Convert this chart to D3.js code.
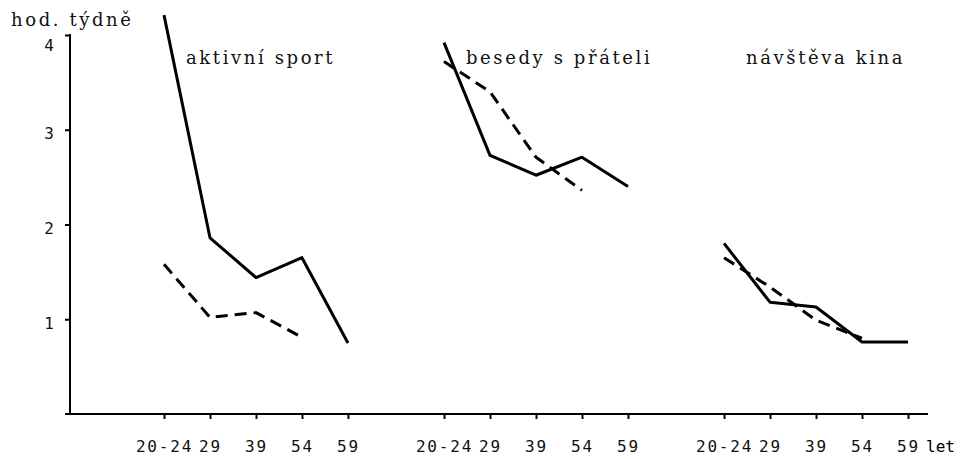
<!DOCTYPE html>
<html lang="cs">
<head>
<meta charset="utf-8">
<title>hod. týdně</title>
<script src="https://cdn.jsdelivr.net/npm/d3@7"></script>
<style>
  body { margin: 0; background: #fff; }
  .title { font-family: "DejaVu Serif", serif; font-size: 18px; letter-spacing: 2.6px; fill: #111; }
  .tick text { font-family: "DejaVu Sans Mono", monospace; font-size: 16px; fill: #111; }
  .line { fill: none; stroke: #000; stroke-width: 3; stroke-linejoin: round; }
  .dashed { stroke-dasharray: 12 7; }
</style>
</head>
<body>
<div id="chart"></div>
<script>
// data
var activities = ["aktivní sport", "besedy s přáteli", "návštěva kina"];
var ageLabels = ["20-24", "29", "39", "54", "59"];
var solidValues = [
  [4.21, 1.86, 1.44, 1.65, 0.75],
  [3.92, 2.73, 2.52, 2.71, 2.40],
  [1.80, 1.18, 1.13, 0.76, 0.76]
];
var dashedValues = [
  [1.58, 1.02, 1.07, 0.81],
  [3.72, 3.40, 2.71, 2.36],
  [1.65, 1.34, 0.99, 0.80]
];
var yTicks = [1, 2, 3, 4];

var width = 970, height = 459;

var svg = d3.select("#chart").append("svg")
    .attr("width", width)
    .attr("height", height);

var y = d3.scaleLinear().domain([0, 4]).range([414, 35]);

var xGroup = d3.scaleBand()
    .domain(activities)
    .range([164, 908])
    .paddingInner(0.343)
    .paddingOuter(0);

var xAge = d3.scalePoint()
    .domain(ageLabels)
    .range([0, xGroup.bandwidth()]);

var axisX0 = 70, axisX1 = 928;

// y axis
var yAxis = svg.append("g")
    .attr("transform", "translate(" + axisX0 + ",0)")
    .call(d3.axisLeft(y).tickValues(yTicks).tickSize(5).tickPadding(11).tickFormat(d3.format("d")));
yAxis.select(".domain").remove();
yAxis.selectAll(".tick line").attr("stroke", "#000").attr("stroke-width", 2);
yAxis.selectAll(".tick text").attr("dy", function (d) { return d === 4 ? "0.95em" : "0.55em"; });

svg.append("line")
    .attr("x1", axisX0).attr("x2", axisX0)
    .attr("y1", y(4) - 1).attr("y2", y(0))
    .attr("stroke", "#000").attr("stroke-width", 2);

// x axis
svg.append("line")
    .attr("x1", axisX0 - 5).attr("x2", axisX1)
    .attr("y1", y(0)).attr("y2", y(0))
    .attr("stroke", "#000").attr("stroke-width", 2);

activities.forEach(function (a, gi) {
    var g = svg.append("g")
        .attr("transform", "translate(" + xGroup(a) + "," + y(0) + ")")
        .call(d3.axisBottom(xAge).tickSize(5).tickPadding(22));
    g.select(".domain").remove();
    g.selectAll(".tick line").attr("stroke", "#000").attr("stroke-width", 2);
    g.selectAll(".tick text").attr("letter-spacing", "1.8px");

    var line = d3.line()
        .x(function (d, i) { return xGroup(a) + xAge(ageLabels[i]); })
        .y(function (d) { return y(d); });

    svg.append("path")
        .datum(solidValues[gi])
        .attr("class", "line")
        .attr("d", line);

    svg.append("path")
        .datum(dashedValues[gi])
        .attr("class", "line dashed")
        .attr("d", line);

    svg.append("text")
        .attr("class", "title")
        .attr("x", xGroup(a) + 22)
        .attr("y", 64)
        .text(a);
});

svg.append("text")
    .attr("class", "title")
    .attr("x", 11)
    .attr("y", 26)
    .attr("letter-spacing", "3px")
    .text("hod. týdně");

svg.append("text")
    .attr("x", 926)
    .attr("y", y(0) + 38)
    .attr("font-family", "DejaVu Sans Mono, monospace")
    .attr("font-size", 16)
    .text("let");
</script>
</body>
</html>
